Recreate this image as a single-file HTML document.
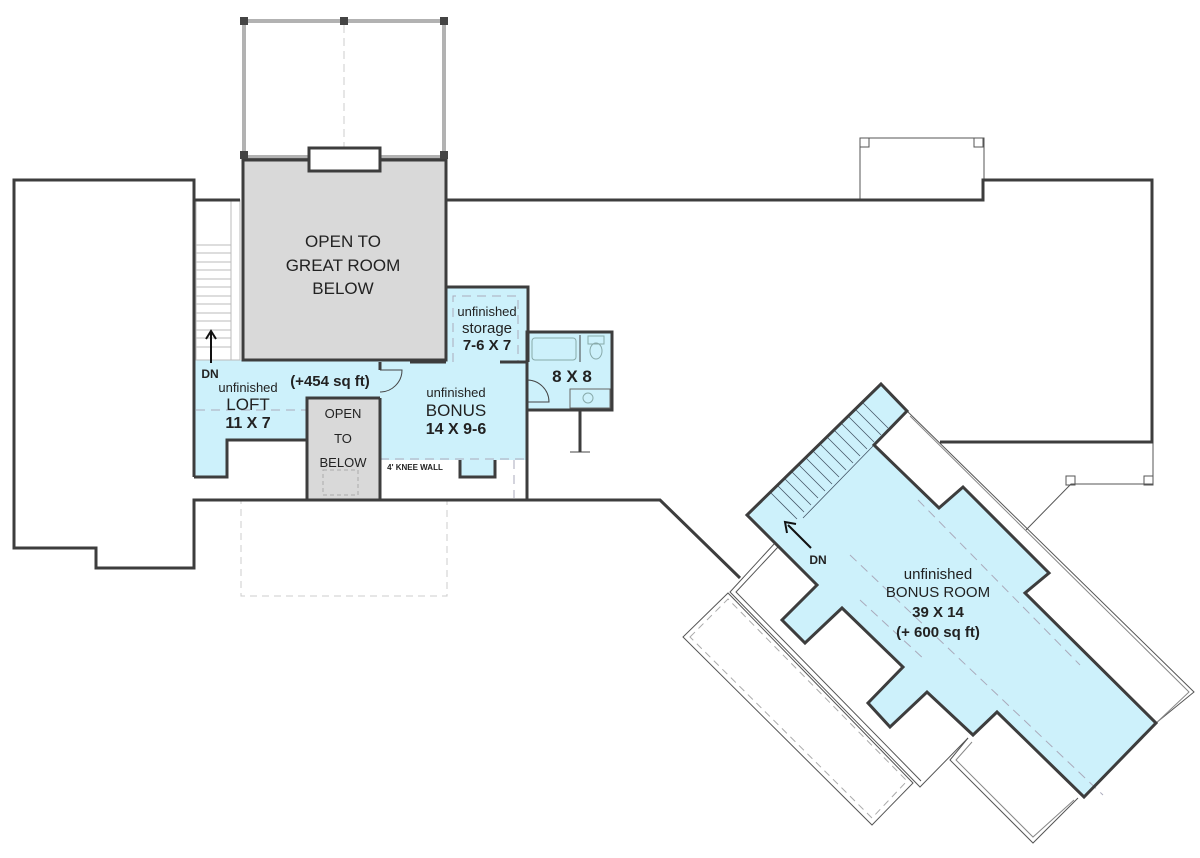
<!DOCTYPE html>
<html><head><meta charset="utf-8"><style>
html,body{margin:0;padding:0;background:#fff}
svg{display:block}
text{font-family:"Liberation Sans",sans-serif;fill:#222;text-anchor:middle}
.b{font-weight:bold}
</style></head><body>
<svg width="1200" height="858" viewBox="0 0 1200 858" xmlns="http://www.w3.org/2000/svg">
<g fill="none" stroke="#555" stroke-width="1">
<rect x="244" y="21" width="200" height="136" stroke="#666" stroke-width="3"/>
<rect x="244" y="21" width="200" height="136" stroke="#fff" stroke-width="1"/>
<line x1="344" y1="25" x2="344" y2="500" stroke="#ccc" stroke-dasharray="8,5"/>
<polyline points="860,200 860,138 984,138 984,180"/>
<rect x="860" y="138" width="9" height="9"/><rect x="974" y="138" width="9" height="9"/>
<polyline points="1153,442 1153,484 1071,484 1026,530"/>
<rect x="1066" y="476" width="9" height="9"/><rect x="1144" y="476" width="9" height="9"/>
<rect x="241" y="500" width="206" height="96" stroke="#ccc" stroke-dasharray="7,5"/>
<polyline points="907,411 1194,692 1156,723"/>
<polyline points="910,416 1189,692 1153,726" stroke="#888"/>
<polyline points="775,543 730,592 920,787 968,738"/>
<polyline points="778,547 736,592 921,781"/>
<polygon points="728,593 683,637 872,825 913,783"/>
<polygon points="690,637 728,599 907,781 872,818" stroke="#aaa" stroke-dasharray="7,5"/>
<polyline points="968,738 950,760 1033,843 1078,798"/>
<polyline points="972,742 956,760 1033,837 1074,800" stroke="#888"/>
</g>
<g stroke="none">
<rect x="243" y="160" width="203" height="200" fill="#d9d9d9"/>
<rect x="307" y="398" width="73" height="102" fill="#d9d9d9"/>
<polygon fill="#cdf1fb" points="194,360 446,360 446,287 528,287 528,332 612,332 612,410 527,410 527,460 495,460 495,477 460,477 460,460 380,460 380,398 307,398 307,440 227,440 227,477 194,477"/>
<polygon fill="#cdf1fb" points="881,384 907,411 874,445 939,508 963,487 1049,573 1025,593 1156,723 1084,797 997,712 973,735 927,692 890,727 868,703 903,667 842,608 805,643 782,620 817,585 747,515"/>
</g>
<g stroke="#bbb" stroke-width="1">
<rect x="196" y="200" width="44" height="160" fill="#fff"/>
<line x1="231" y1="200" x2="231" y2="360"/>
<line x1="196" y1="245" x2="231" y2="245"/><line x1="196" y1="253" x2="231" y2="253"/><line x1="196" y1="262" x2="231" y2="262"/><line x1="196" y1="270" x2="231" y2="270"/><line x1="196" y1="279" x2="231" y2="279"/><line x1="196" y1="287" x2="231" y2="287"/><line x1="196" y1="296" x2="231" y2="296"/><line x1="196" y1="304" x2="231" y2="304"/><line x1="196" y1="313" x2="231" y2="313"/><line x1="196" y1="321" x2="231" y2="321"/><line x1="196" y1="330" x2="231" y2="330"/><line x1="196" y1="338" x2="231" y2="338"/><line x1="196" y1="347" x2="231" y2="347"/>
</g>
<g stroke="#456" stroke-width="0.8">
<line x1="862" y1="402" x2="888" y2="428"/><line x1="855" y1="409" x2="881" y2="435"/><line x1="848" y1="416" x2="874" y2="442"/><line x1="841" y1="423" x2="867" y2="449"/><line x1="834" y1="430" x2="860" y2="456"/><line x1="827" y1="437" x2="853" y2="463"/><line x1="820" y1="444" x2="846" y2="470"/><line x1="813" y1="451" x2="839" y2="477"/><line x1="806" y1="458" x2="832" y2="484"/><line x1="799" y1="465" x2="825" y2="491"/><line x1="792" y1="472" x2="818" y2="498"/><line x1="785" y1="479" x2="811" y2="505"/><line x1="778" y1="486" x2="804" y2="512"/><line x1="771" y1="493" x2="797" y2="519"/>
<line x1="874" y1="445" x2="803" y2="518"/>
</g>
<g fill="none" stroke="#aab" stroke-width="1" stroke-dasharray="9,6">
<line x1="196" y1="410" x2="307" y2="410"/>
<line x1="380" y1="459" x2="527" y2="459"/>
<line x1="514" y1="460" x2="514" y2="498"/>
<polyline points="453,362 453,296 518,296 518,362"/>
<line x1="918" y1="500" x2="1080" y2="665"/>
<line x1="850" y1="555" x2="1103" y2="795"/>
<line x1="860" y1="600" x2="925" y2="660"/>
</g>
<g fill="none" stroke="#3d3d3d" stroke-width="3" stroke-linejoin="miter">
<polyline points="194,200 194,180 14,180 14,548 96,548 96,568 194,568 194,500 660,500 740,578"/>
<line x1="194" y1="200" x2="240" y2="200"/>
<line x1="194" y1="200" x2="194" y2="477"/>
<rect x="243" y="160" width="203" height="200"/>
<rect x="309" y="148" width="71" height="23" fill="#fff"/>
<polyline points="446,200 983,200 983,180 1152,180 1152,442 940,442"/>
<polyline points="194,477 227,477 227,440 307,440 307,398 380,398"/>
<line x1="307" y1="398" x2="307" y2="500"/><line x1="380" y1="398" x2="380" y2="500"/>
<polyline points="243,360 378,360"/>
<polyline points="380,360 446,360 446,287 528,287 528,362"/>
<polyline points="380,362 380,370"/>
<line x1="410" y1="362" x2="446" y2="362"/>
<line x1="500" y1="362" x2="528" y2="362"/>
<rect x="527" y="332" width="85" height="78"/>
<polyline points="527,380 527,500"/>
<polyline points="460,460 460,477 495,477 495,460"/>
<line x1="580" y1="410" x2="580" y2="452"/>
<polygon points="881,384 907,411 874,445 939,508 963,487 1049,573 1025,593 1156,723 1084,797 997,712 973,735 927,692 890,727 868,703 903,667 842,608 805,643 782,620 817,585 747,515"/>
</g>
<g fill="none" stroke="#444" stroke-width="1">
<line x1="570" y1="452" x2="590" y2="452"/>
<path d="M380,370 L402,370 A22,22 0 0 1 380,392"/>
<path d="M527,380 A22,22 0 0 1 549,402 L527,402"/>
<rect x="532" y="338" width="44" height="22" rx="3" stroke="#8aa"/>
<line x1="580" y1="335" x2="580" y2="362"/>
<rect x="588" y="336" width="16" height="8" stroke="#8aa"/>
<ellipse cx="596" cy="351" rx="6" ry="8" stroke="#8aa"/>
<rect x="570" y="389" width="40" height="19" stroke="#666"/>
<circle cx="588" cy="398" r="5" stroke="#8aa"/>
<rect x="323" y="470" width="35" height="25" stroke="#aaa" stroke-dasharray="4,3"/>
</g>
<g fill="#444">
<rect x="240" y="17" width="8" height="8"/><rect x="340" y="17" width="8" height="8"/><rect x="440" y="17" width="8" height="8"/>
<rect x="240" y="151" width="8" height="8"/><rect x="440" y="151" width="8" height="8"/>
</g>
<g stroke="#111" stroke-width="2" fill="none">
<line x1="211" y1="363" x2="211" y2="333"/><polyline points="206,339 211,331 216,339"/>
<line x1="811" y1="548" x2="788" y2="525"/><polyline points="787,533 785,522 796,524"/>
</g>
<text x="343" y="247" font-size="17">OPEN TO</text>
<text x="343" y="271" font-size="17">GREAT ROOM</text>
<text x="343" y="294" font-size="17">BELOW</text>
<text x="487" y="316" font-size="13">unfinished</text>
<text x="487" y="333" font-size="15">storage</text>
<text x="487" y="350" font-size="15" class="b">7-6 X 7</text>
<text x="572" y="382" font-size="17" class="b">8 X 8</text>
<text x="210" y="378" font-size="12" class="b">DN</text>
<text x="248" y="392" font-size="13">unfinished</text>
<text x="248" y="410" font-size="17">LOFT</text>
<text x="248" y="428" font-size="16" class="b">11 X 7</text>
<text x="330" y="386" font-size="15" class="b">(+454 sq ft)</text>
<text x="456" y="397" font-size="13">unfinished</text>
<text x="456" y="416" font-size="17">BONUS</text>
<text x="456" y="434" font-size="16" class="b">14 X 9-6</text>
<text x="343" y="418" font-size="13">OPEN</text>
<text x="343" y="443" font-size="13">TO</text>
<text x="343" y="467" font-size="13">BELOW</text>
<text x="415" y="470" font-size="8" class="b">4' KNEE WALL</text>
<text x="818" y="564" font-size="12" class="b">DN</text>
<text x="938" y="579" font-size="15">unfinished</text>
<text x="938" y="597" font-size="15">BONUS ROOM</text>
<text x="938" y="617" font-size="15" class="b">39 X 14</text>
<text x="938" y="637" font-size="15" class="b">(+ 600 sq ft)</text>
</svg>
</body></html>
